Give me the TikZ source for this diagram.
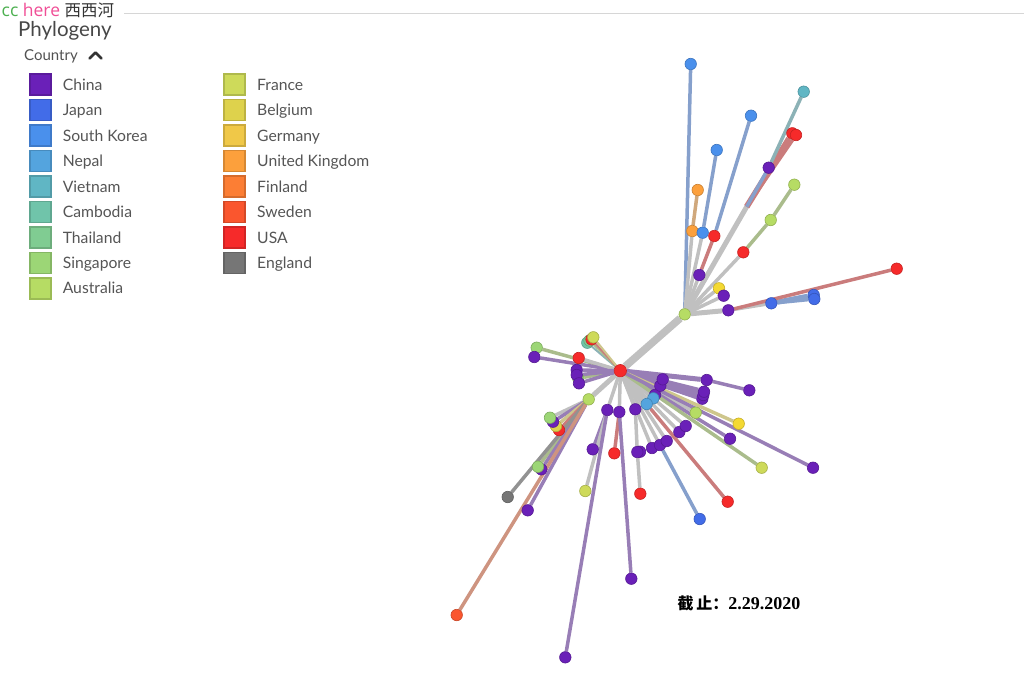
\documentclass[tikz,border=0pt]{standalone}
\usepackage{fontspec}
\setmainfont{Lato}
\newfontfamily\cjkfont{Noto Sans CJK SC}
\newfontfamily\seriffont{Liberation Serif}
\newfontfamily\headfont{Open Sans}
\usetikzlibrary{backgrounds,positioning}

\definecolor{china}{RGB}{106,32,184}
\definecolor{japan}{RGB}{66,108,232}
\definecolor{skorea}{RGB}{74,144,236}
\definecolor{nepal}{RGB}{84,164,222}
\definecolor{vietnam}{RGB}{96,182,196}
\definecolor{cambodia}{RGB}{112,196,170}
\definecolor{thailand}{RGB}{128,204,146}
\definecolor{singapore}{RGB}{156,214,118}
\definecolor{australia}{RGB}{182,220,100}
\definecolor{france}{RGB}{206,218,90}
\definecolor{belgium}{RGB}{222,210,76}
\definecolor{germany}{RGB}{240,200,72}
\definecolor{uk}{RGB}{252,160,60}
\definecolor{finland}{RGB}{252,126,52}
\definecolor{sweden}{RGB}{250,86,46}
\definecolor{usa}{RGB}{246,42,42}
\definecolor{england}{RGB}{118,118,118}

\definecolor{edgegray}{RGB}{192,192,192}
\definecolor{echina}{RGB}{152,126,182}
\definecolor{eblue}{RGB}{134,160,204}
\definecolor{eusa}{RGB}{202,124,124}
\definecolor{eteal}{RGB}{140,178,182}
\definecolor{egreen}{RGB}{170,188,140}
\definecolor{eorange}{RGB}{208,168,124}
\definecolor{eyellow}{RGB}{206,198,140}
\definecolor{eengland}{RGB}{146,146,146}
\definecolor{esweden}{RGB}{206,148,128}
\definecolor{labelgray}{RGB}{85,85,85}
\definecolor{ccgreen}{RGB}{76,176,80}
\definecolor{herepink}{RGB}{240,78,150}

\begin{document}
\begin{tikzpicture}[x=1pt, y=-1pt,
  swatch/.style={rectangle, minimum size=21pt, inner sep=0pt, line width=1.6pt,
                 fill=#1, draw=#1!85!black},
  legtext/.style={font=\fontsize{15.7}{18}\selectfont, text=labelgray, inner sep=0pt,
                  anchor=base west, xshift=11pt, yshift=-5.6pt},
  dot/.style={circle, minimum size=11.5pt, inner sep=0pt, fill=#1,
              draw=#1!80!black, line width=0.6pt},
  edge/.style={draw=edgegray, line width=3.5pt},
  thin/.style={line width=2pt},
  wide/.style={line width=5pt},
  trunk/.style={line width=7.5pt},
  rule/.style={draw=black!16, line width=1.4pt},
]
\useasboundingbox (0,0) rectangle (1024,689);

%% Header
\node[anchor=base west, inner sep=0pt, font=\headfont\fontsize{17.5}{20}\selectfont, text=black!80] (hdr) at (1.5,16.5)
  {{\color{ccgreen}cc} {\color{herepink}here} {\cjkfont\fontsize{16.5}{20}\selectfont 西西河}};
\coordinate (rulestart) at (124,13.3);
\coordinate (ruleend) at (1024,13.3);
\draw[rule] (rulestart) -- (ruleend);
\node[anchor=base west, inner sep=0pt, font=\fontsize{20.5}{24}\selectfont, text=black!72] (title) at (18,36) {Phylogeny};
\node[anchor=base west, inner sep=0pt, font=\fontsize{15}{18}\selectfont, text=black!68] (country) at (24,60.5) {Country};
\draw[black!80, line width=2.6pt, line cap=round, line join=round] (89.5,58.5) -- (95.5,52.5) -- (101.5,58.5);

%% Legend, two columns
\foreach \c/\t [count=\i from 0] in {china/China, japan/Japan, skorea/South Korea,
    nepal/Nepal, vietnam/Vietnam, cambodia/Cambodia, thailand/Thailand,
    singapore/Singapore, australia/Australia} {
  \node[swatch=\c] (swa\i) at (40.3, 84.7+25.45*\i) {};
  \node[legtext] (laba\i) at (swa\i.east) {\t};
}
\foreach \c/\t [count=\i from 0] in {france/France, belgium/Belgium, germany/Germany,
    uk/United Kingdom, finland/Finland, sweden/Sweden, usa/USA, england/England} {
  \node[swatch=\c] (swb\i) at (234.7, 84.7+25.45*\i) {};
  \node[legtext] (labb\i) at (swb\i.east) {\t};
}

%% Upper branch leaves
\node[dot=skorea]    (kr1) at (690.7,64) {};
\node[dot=vietnam]   (vn1) at (803.7,91.7) {};
\node[dot=skorea]    (kr2) at (751,115.7) {};
\node[dot=usa]       (us1) at (792.3,133.3) {};
\node[dot=usa]       (us2) at (796,135) {};
\node[dot=skorea]    (kr3) at (716.7,150) {};
\node[dot=china]     (cn1) at (768.7,167.7) {};
\node[dot=australia] (au1) at (794.3,184.7) {};
\node[dot=uk]        (uk1) at (697.7,190) {};
\node[dot=australia] (au2) at (770.7,220) {};
\node[dot=uk]        (uk2) at (692.3,231) {};
\node[dot=skorea]    (kr4) at (702.7,232.7) {};
\node[dot=usa]       (us3) at (714.3,236) {};
\node[dot=usa]       (us4) at (743.3,252.3) {};
\node[dot=usa]       (us5) at (896.7,268.7) {};
\node[dot=china]     (cn2) at (699.3,275) {};
\node[dot=germany!70!yellow] (de1) at (719,288.3) {};
\node[dot=china]     (cn3) at (723.7,295.7) {};
\node[dot=japan]     (jp1) at (813.7,295) {};
\node[dot=japan]     (jp2) at (814.3,299) {};
\node[dot=japan]     (jp3) at (771.3,303.3) {};
\node[dot=china]     (cn4) at (728.3,310.3) {};
\coordinate (fork) at (746.7,206.7);

%% Central cluster leaves
\node[dot=cambodia]  (kh1) at (587.3,342.7) {};
\node[dot=thailand]  (th1) at (589.5,340.5) {};
\node[dot=usa]       (us6) at (591.5,339.3) {};
\node[dot=france]    (fr1) at (593.3,337.3) {};
\node[dot=singapore] (sg1) at (536.7,347.7) {};
\node[dot=china]     (cn5) at (534.3,357) {};
\node[dot=usa]       (us7) at (578.7,358) {};
\node[dot=china]     (cn6) at (576.7,370) {};
\node[dot=singapore] (sg2) at (578.3,378.3) {};
\node[dot=china]     (cn7) at (576.7,375) {};
\node[dot=china]     (cn34) at (579,383.3) {};
\node[dot=china]     (cn11) at (749.3,390.3) {};
\node[dot=china]     (cn10) at (706.7,380) {};
\node[dot=china]     (cn14) at (702.3,398.7) {};
\node[dot=china]     (cn13) at (703.3,395) {};
\node[dot=china]     (cn12) at (704,391.7) {};
\node[dot=china]     (cn15) at (655,395) {};
\node[dot=china]     (cn9) at (660.3,385.7) {};
\node[dot=china]     (cn8) at (662.7,379.3) {};
\node[dot=nepal]     (np1) at (653.3,398.3) {};
\node[dot=nepal]     (np2) at (646.7,404) {};
\node[dot=australia] (au3) at (695.7,412.7) {};
\node[dot=germany!70!yellow] (de2) at (738.7,423.7) {};
\node[dot=china]     (cn17) at (679.3,432) {};
\node[dot=china]     (cn16) at (685.7,426) {};
\node[dot=china]     (cn18) at (730,438.7) {};
\node[dot=china]     (cn21) at (652,448) {};
\node[dot=china]     (cn20) at (660,445) {};
\node[dot=china]     (cn19) at (666.7,441) {};
\node[dot=france]    (fr2) at (761.7,467.7) {};
\node[dot=china]     (cn22) at (813,467.7) {};
\node[dot=usa]       (us8) at (727.7,501.7) {};
\node[dot=japan]     (jp4) at (699.7,519) {};
\node[dot=china]     (cn23) at (607.3,410) {};
\node[dot=china]     (cn24) at (619.3,412) {};
\node[dot=china]     (cn25) at (635.3,409.3) {};
\node[dot=china]     (cn26) at (592.7,449.3) {};
\node[dot=usa]       (us9) at (614.3,453.3) {};
\node[dot=china]     (cn28) at (640,451.7) {};
\node[dot=china]     (cn27) at (637.3,452) {};
\node[dot=france]    (fr3) at (585.3,491) {};
\node[dot=usa]       (us10) at (640.3,493.7) {};
\node[dot=china]     (cn29) at (631.3,578.7) {};
\node[dot=china]     (cn30) at (565.3,657.3) {};

%% Lower-left branch leaves
\node[dot=usa]       (us11) at (559,430) {};
\node[dot=belgium]   (be1) at (556,426) {};
\node[dot=china]     (cn31) at (553,421.7) {};
\node[dot=singapore] (sg3) at (550,417.7) {};
\node[dot=china]     (cn32) at (541.3,469.3) {};
\node[dot=singapore] (sg4) at (538,466.7) {};
\node[dot=england]   (en1) at (507.7,497) {};
\node[dot=china]     (cn33) at (527.7,510.3) {};
\node[dot=sweden]    (se1) at (456.7,615) {};

%% Hubs
\node[dot=australia] (hubS) at (588.7,399.3) {};
\node[dot=australia] (hubN) at (684.7,314.3) {};
\node[dot=usa, minimum size=12.5pt] (root) at (620.3,370.7) {};

%% Date
\node[font=\seriffont\bfseries\fontsize{18}{20}\selectfont, text=black] (cutoff) at (739,603.5)
  {{\cjkfont\fontsize{16}{18}\selectfont 截\,止：}2.29.2020};

%% Branches
\begin{scope}[on background layer]
\draw[edge, trunk] (root) -- (hubN);
\draw[edge, wide] (root) -- (hubS);
% upper branch
\draw[edge, draw=eblue] (hubN) -- (kr1);
\draw[edge] (hubN) -- (uk2);
\draw[edge, draw=eorange] (uk2) -- (uk1);
\draw[edge] (hubN) -- (kr4);
\draw[edge, draw=eblue] (kr4) -- (kr3);
\draw[edge] (hubN) -- (cn2);
\draw[edge, draw=eusa] (cn2) -- (us3);
\draw[edge, draw=eblue] (us3) -- (kr2);
\draw[edge, wide] (hubN) -- (fork);
\draw[edge, draw=eusa, line width=6pt] (fork) -- (us1);
\draw[edge, draw=eusa] (fork) -- (us2);
\draw[edge, draw=eblue] (fork) -- (cn1);
\draw[edge, draw=eteal] (cn1) -- (vn1);
\draw[edge] (hubN) -- (us4);
\draw[edge, draw=egreen] (us4) -- (au2);
\draw[edge, draw=egreen] (au2) -- (au1);
\draw[edge] (hubN) -- (de1);
\draw[edge] (hubN) -- (cn3);
\draw[edge, wide] (hubN) -- (cn4);
\draw[edge] (cn4) -- (jp3);
\draw[edge, draw=eblue, wide] (jp3) -- (jp1);
\draw[edge, draw=eblue] (jp3) -- (jp2);
\draw[edge, draw=eusa] (cn4) -- (us5);
% central cluster
\draw[edge, thin, draw=eteal] (root) -- (kh1);
\draw[edge, thin, draw=egreen] (root) -- (th1);
\draw[edge, thin, draw=eusa] (root) -- (us6);
\draw[edge, thin, draw=eyellow] (root) -- (fr1);
\draw[edge, draw=egreen] (root) -- (sg1);
\draw[edge, draw=echina] (root) -- (cn5);
\draw[edge] (root) -- (us7);
\draw[edge, draw=egreen] (root) -- (sg2);
\foreach \n in {cn6, cn7, cn34}
  \draw[edge, draw=echina] (root) -- (\n);
\foreach \n in {cn8, cn9, cn10, cn12, cn13, cn14}
  \draw[edge, wide, draw=echina] (root) -- (\n);
\draw[edge, draw=echina] (cn10) -- (cn11);
\foreach \n in {cn15, np1, np2, au3, cn16, cn17, cn19, cn20, cn21, cn23, cn24, cn25}
  \draw[edge] (root) -- (\n);
\draw[edge, draw=eyellow] (root) -- (de2);
\draw[edge, draw=echina] (root) -- (cn18);
\draw[edge, draw=egreen] (root) -- (fr2);
\draw[edge, draw=echina] (root) -- (cn22);
\draw[edge, draw=eusa] (np2) -- (us8);
\draw[edge, draw=eblue] (cn20) -- (jp4);
\draw[edge, draw=echina] (cn23) -- (cn26);
\draw[edge] (cn23) -- (fr3);
\draw[edge, draw=echina] (cn23) -- (cn30);
\draw[edge, draw=eusa] (cn24) -- (us9);
\draw[edge, draw=echina] (cn24) -- (cn29);
\draw[edge] (cn25) -- (cn27);
\draw[edge] (cn27) -- (us10);
% lower-left branch
\draw[edge] (hubS) -- (sg3);
\draw[edge, draw=echina] (hubS) -- (cn31);
\draw[edge, draw=eyellow] (hubS) -- (be1);
\draw[edge, draw=eusa] (hubS) -- (us11);
\draw[edge, draw=egreen] (hubS) -- (sg4);
\draw[edge, draw=echina] (hubS) -- (cn32);
\draw[edge, draw=eengland] (hubS) -- (en1);
\draw[edge, draw=echina] (hubS) -- (cn33);
\draw[edge, draw=esweden] (hubS) -- (se1);
\end{scope}
\end{tikzpicture}
\end{document}
